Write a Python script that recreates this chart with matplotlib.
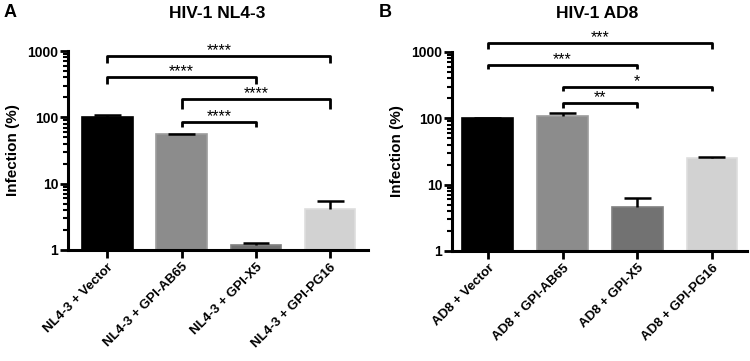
import matplotlib
matplotlib.use("Agg")
import matplotlib.pyplot as plt
import numpy as np

plt.rcParams['font.family'] = ['Liberation Sans', 'DejaVu Sans']

# panel A: HIV-1 NL4-3
labels_a = ['NL4-3 + Vector', 'NL4-3 + GPI-AB65', 'NL4-3 + GPI-X5', 'NL4-3 + GPI-PG16']
means_a = [101, 55.5, 1.19, 4.1]
errs_a = [7, 1.5, 0.1, 1.35]
# (left bar, right bar, line height, leg bottom, stars)
brackets_a = [(0, 3, 855, 650, '****'),
              (0, 2, 400, 315, '****'),
              (1, 3, 187, 132, '****'),
              (1, 2, 84, 71, '****')]

# panel B: HIV-1 AD8
labels_b = ['AD8 + Vector', 'AD8 + GPI-AB65', 'AD8 + GPI-X5', 'AD8 + GPI-PG16']
means_b = [100, 110, 4.66, 25.5]
errs_b = [2, 9, 1.7, 0.6]
brackets_b = [(0, 3, 1380, 1110, '***'),
              (0, 2, 640, 550, '***'),
              (1, 3, 294, 262, '*'),
              (1, 2, 168, 142, '**')]

colors = ['#000000', '#8c8c8c', '#727272', '#d2d2d2']
edges = ['#000000', '#9c9c9c', '#808080', '#dedede']


def draw_panel(ax, labels, means, errs, brackets, xlim):
    x = np.arange(len(labels))
    means = np.array(means)
    tops = means + np.array(errs)
    ax.bar(x, means, width=0.68, color=colors, edgecolor=edges, linewidth=1.2, zorder=2)
    # one-sided error bars: stem + top cap only
    ax.vlines(x, means, tops, color='black', lw=1.8, zorder=3)
    ax.hlines(tops, x - 0.18, x + 0.18, color='black', lw=1.8, zorder=3)
    ax.set_yscale('log')
    ax.set_ylim(1, 1000)
    ax.set_xlim(*xlim)
    ax.set_xticks(x)
    ax.set_xticklabels(labels, rotation=45, ha='right', rotation_mode='anchor',
                       fontsize=9.5, fontweight='bold')
    ax.set_yticks([1, 10, 100, 1000])
    ax.set_yticklabels(['1', '10', '100', '1000'], fontsize=10, fontweight='bold')
    ax.set_ylabel('Infection (%)', fontsize=11, fontweight='bold', labelpad=5)
    for s in ['top', 'right']:
        ax.spines[s].set_visible(False)
    for s in ['left', 'bottom']:
        ax.spines[s].set_linewidth(2.2)
    ax.tick_params(axis='y', which='major', length=6, width=2, pad=1)
    ax.tick_params(axis='y', which='minor', length=3.5, width=1.5)
    ax.tick_params(axis='x', length=6, width=2, pad=2)
    for i0, i1, top, leg, stars in brackets:
        ax.plot([i0, i0, i1, i1], [leg, top, top, leg], color='black', lw=2,
                clip_on=False, solid_capstyle='butt', zorder=4)
        ax.text((i0 + i1) / 2, top * 1.03, stars, ha='center', va='baseline',
                fontsize=11.5, clip_on=False)


fig = plt.figure(figsize=(7.5, 3.61), dpi=100)
ax_a = fig.add_axes([0.0907, 0.3075, 0.40, 0.5512])
ax_b = fig.add_axes([0.6027, 0.305, 0.3933, 0.551])

draw_panel(ax_a, labels_a, means_a, errs_a, brackets_a, (-0.53, 3.51))
draw_panel(ax_b, labels_b, means_b, errs_b, brackets_b, (-0.48, 3.47))

fig.text(0.29, 0.962, 'HIV-1 NL4-3', ha='center', va='center', fontsize=12.5, fontweight='bold')
fig.text(0.796, 0.962, 'HIV-1 AD8', ha='center', va='center', fontsize=12.5, fontweight='bold')
fig.text(0.005, 0.965, 'A', ha='left', va='center', fontsize=13, fontweight='bold')
fig.text(0.505, 0.965, 'B', ha='left', va='center', fontsize=13, fontweight='bold')

fig.savefig('out.png', dpi=100)
